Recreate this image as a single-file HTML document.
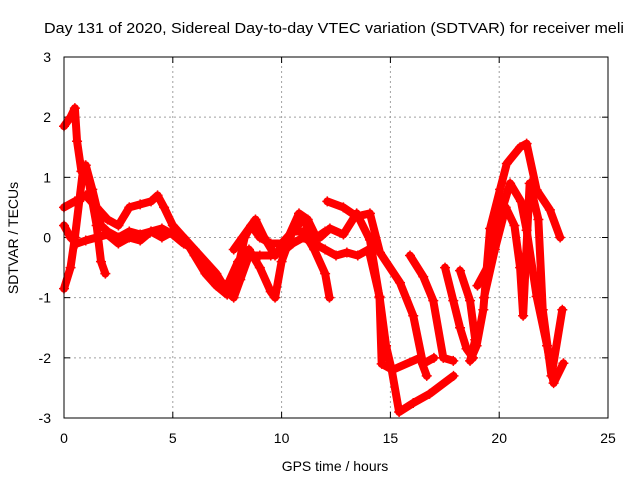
<!DOCTYPE html>
<html><head><meta charset="utf-8"><style>
body{margin:0;background:#fff}
svg{display:block;font-family:"Liberation Sans",sans-serif}
</style></head><body>
<svg id="chart" width="640" height="480">
<text x="334" y="33" text-anchor="middle" font-size="15" textLength="580" lengthAdjust="spacingAndGlyphs">Day 131 of 2020, Sidereal Day-to-day VTEC variation (SDTVAR) for receiver meli</text>
<text x="335" y="471" text-anchor="middle" font-size="14">GPS time / hours</text>
<text transform="translate(18,238) rotate(-90)" text-anchor="middle" font-size="14">SDTVAR / TECUs</text>
<g id="grid"></g>
<g id="ticks"></g>
<g id="series"></g>
<rect x="64" y="57" width="544" height="361" fill="none" stroke="#000" stroke-width="1"/>
</svg>
<script>
const xTicks=[0,5,10,15,20,25];
const yTicks=[-3,-2,-1,0,1,2,3];
const track1=[[0,1.85],[0.3,2.0],[0.5,2.15],[0.6,1.6],[0.8,1.1],[1.0,1.2],[1.3,0.8],[1.7,0.2],[2.0,0.1],[2.5,0.0],[3,0.1],[3.5,0.05],[4,0.1],[4.5,0.0],[5,0.1],[5.5,0.0],[6,-0.2],[6.5,-0.4],[7,-0.6],[7.5,-0.9],[7.8,-1.0],[8.1,-0.7],[8.5,-0.3],[9,-0.3],[9.5,-0.3],[10,-0.25],[10.5,-0.1],[11,0.0],[11.5,-0.1],[12,-0.2],[12.5,-0.3],[13,-0.25],[13.5,-0.3],[14.0,-0.2],[14.5,-0.98],[14.8,-1.8],[15.06,-2.2],[15.4,-2.9],[16.05,-2.75],[16.8,-2.6],[17.9,-2.3]];
const track2=[[0,-0.85],[0.3,-0.5],[0.5,0],[0.7,0.6],[0.9,1.2],[1.1,1.0],[1.3,0.6],[1.5,0.2],[1.7,-0.4],[1.9,-0.6]];
const track3=[[0,0.5],[0.5,0.6],[1.0,0.7],[1.5,0.5],[2,0.3],[2.5,0.2],[3,0.5],[3.5,0.55],[4,0.6],[4.3,0.7],[4.6,0.5],[5,0.2],[5.5,0.0],[6,-0.3],[6.5,-0.6],[7,-0.8],[7.5,-0.95],[8,-0.5],[8.3,0],[8.6,0.2],[9,0.0],[9.5,-0.1],[10,-0.1],[10.5,0.1],[11,0.3],[11.5,0.0],[11.76,0.0],[12.22,0.15],[12.84,0.05],[13.45,0.4],[14.06,-0.04],[14.5,-1.0],[14.6,-2.1],[15.1,-2.2],[16.36,-2.0],[16.67,-2.3]];
const track4=[[0,0.2],[0.3,0.0],[0.6,-0.1],[1,-0.05],[1.5,0.0],[2,0.05],[2.5,-0.1],[3,0.0],[3.5,-0.05],[4,0.1],[4.5,0.15],[5,0.05],[5.5,-0.1],[6,-0.2],[6.5,-0.5],[7,-0.7],[7.5,-0.8],[8,-0.4],[8.5,-0.2],[9,-0.5],[9.5,-0.9],[9.7,-1.0],[10,-0.4],[10.5,0.1],[11,0.1],[11.5,-0.2],[12,-0.6],[12.2,-1.0]];
const track5=[[7.8,-0.2],[8.2,0.0],[8.8,0.3],[9.2,0.0],[9.7,-0.3],[10.3,0.0],[10.8,0.4],[11.2,0.3],[11.6,0.0],[12,0.1]];
const track6=[[12.1,0.6],[12.84,0.5],[13.45,0.35],[14.06,0.4],[14.52,-0.25],[15.44,-0.75],[16.05,-1.3],[16.5,-2.1],[17.0,-2.0]];
const track7=[[15.9,-0.3],[16.51,-0.65],[16.97,-1.05],[17.43,-2.0],[17.89,-2.05]];
const track8=[[17.51,-0.5],[17.89,-1.05],[18.2,-1.5],[18.5,-1.85],[18.8,-2.0]];
const track9=[[18.2,-0.55],[18.66,-1.05],[18.9,-1.7],[18.66,-2.05],[18.96,-1.8],[19.27,-1.2],[19.58,0.15],[20.04,0.8],[20.35,1.23],[20.96,1.5],[21.26,1.56],[21.72,0.79],[22.33,0.46],[22.8,0.0]];
const track10=[[19.0,-0.8],[19.6,-0.4],[20.0,0.3],[20.5,0.9],[21.0,0.6],[21.26,0.12],[21.72,-0.98],[22.2,-1.8],[22.5,-2.42],[22.95,-2.09]];
const track11=[[19.3,-1.0],[19.8,-0.2],[20.3,0.5],[20.7,0.2],[20.96,-0.5],[21.1,-1.3],[21.4,0.9],[21.8,0.3],[22.0,-1.2],[22.4,-2.3],[22.9,-1.2]];
const tracks=[track1,track2,track3,track4,track5,track6,track7,track8,track9,track10,track11];
const NS="http://www.w3.org/2000/svg";
const X0=64,X1=608,Y0=418,Y1=57;
function xs(t){return X0+(t-0)/(25-0)*(X1-X0);}
function ys(v){return Y0-(v+3)/6*(Y0-Y1);}
function mk(tag,attrs,parent){const e=document.createElementNS(NS,tag);for(const k in attrs)e.setAttribute(k,attrs[k]);parent.appendChild(e);return e;}
const grid=document.getElementById('grid'),ticks=document.getElementById('ticks'),series=document.getElementById('series');
xTicks.forEach(t=>{
  const x=xs(t);
  if(t>0&&t<25){const g=mk('line',{x1:x,x2:x,y1:Y0,y2:Y1,stroke:'#a0a0a0','stroke-dasharray':'2,3'},grid);
  
  }
  mk('line',{x1:x,x2:x,y1:Y0,y2:Y0-6,stroke:'#000'},ticks);
  mk('line',{x1:x,x2:x,y1:Y1,y2:Y1+6,stroke:'#000'},ticks);
  const l=mk('text',{x:x,y:443,'text-anchor':'middle','font-size':14},ticks);l.textContent=t;
  
  
});
yTicks.forEach(v=>{
  const y=ys(v);
  if(v>-3&&v<3){const g=mk('line',{x1:X0,x2:X1,y1:y,y2:y,stroke:'#a0a0a0','stroke-dasharray':'2,3'},grid);
  
  }
  mk('line',{x1:X0,x2:X0+6,y1:y,y2:y,stroke:'#000'},ticks);
  mk('line',{x1:X1,x2:X1-6,y1:y,y2:y,stroke:'#000'},ticks);
  const l=mk('text',{x:51,y:y+5,'text-anchor':'end','font-size':14},ticks);l.textContent=v;
  
  
});
tracks.forEach((tr,i)=>{
  const p=mk('polyline',{points:tr.map(d=>xs(d[0])+','+ys(d[1])).join(' '),fill:'none',stroke:'#ff0000','stroke-width':8,'stroke-linejoin':'round','stroke-linecap':'round'},series);
  
  
  tr.forEach(d=>{
    const x=xs(d[0]),y=ys(d[1]);
    const m=mk('path',{d:`M${x-5},${y}H${x+5}M${x},${y-5}V${y+5}`,stroke:'#ff0000','stroke-width':1.5},series);
    
    
  });
});
</script>
</body></html>
